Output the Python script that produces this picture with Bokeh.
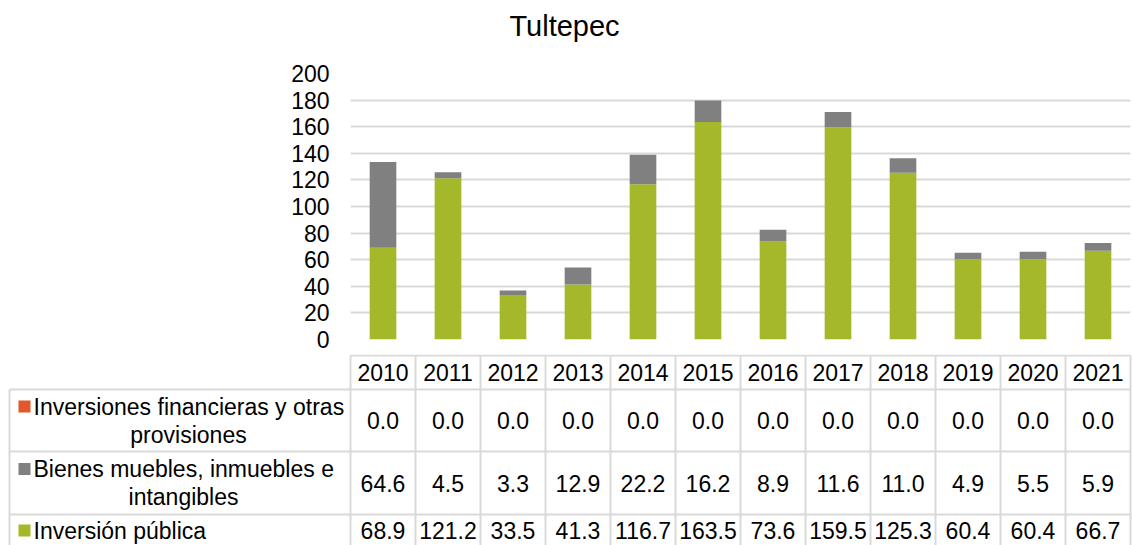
from bokeh.plotting import figure
from bokeh.models import Range1d, FactorRange, FixedTicker, ColumnDataSource
from bokeh.core.properties import value
from bokeh.embed import file_html
from bokeh.resources import INLINE

# ---------------- data ----------------
title_text = "Tultepec"
years = ["2010", "2011", "2012", "2013", "2014", "2015",
         "2016", "2017", "2018", "2019", "2020", "2021"]
inversiones_financieras = [0.0, 0.0, 0.0, 0.0, 0.0, 0.0, 0.0, 0.0, 0.0, 0.0, 0.0, 0.0]
bienes_muebles = [64.6, 4.5, 3.3, 12.9, 22.2, 16.2, 8.9, 11.6, 11.0, 4.9, 5.5, 5.9]
inversion_publica = [68.9, 121.2, 33.5, 41.3, 116.7, 163.5, 73.6, 159.5, 125.3, 60.4, 60.4, 66.7]
series_labels = ["Inversiones financieras y otras\nprovisiones",
                 "Bienes muebles, inmuebles e\nintangibles",
                 "Inversión pública"]
series_colors = ["#E2572B", "#808080", "#A5B82A"]
y_ticks = [0, 20, 40, 60, 80, 100, 120, 140, 160, 180, 200]

# ---------------- layout constants ----------------
FONT = "Liberation Sans"
W = 1132
TOTAL_H = 545
COL0 = 350.0
COL_RIGHT = 1130.0
NCOL = len(years)
COLW = (COL_RIGHT - COL0) / NCOL
GRID = "#D9D9D9"
TITLE_H = 58
PAD_TOP = 15
FRAME_H = 266
PAD_BOTTOM = 15
CHART_H = PAD_TOP + FRAME_H + PAD_BOTTOM


def blank_fig(h):
    f = figure(width=W, height=h, x_range=Range1d(0, W), y_range=Range1d(h, 0),
               output_backend="svg", toolbar_location=None,
               x_axis_location=None, y_axis_location=None, min_border=0)
    f.grid.visible = False
    f.outline_line_color = None
    return f


# ---------------- title ----------------
tf = blank_fig(TITLE_H)
tf.text(x=[564], y=[25], text=[title_text], text_align="center", text_baseline="middle",
        text_font=value(FONT), text_font_size="29px", text_color="#000000")

# ---------------- chart ----------------
src = ColumnDataSource(dict(year=years, fin=inversiones_financieras,
                            bienes=bienes_muebles, inv=inversion_publica))

p = figure(width=W, height=CHART_H, x_range=FactorRange(*years),
           y_range=Range1d(0, 200), output_backend="svg",
           toolbar_location=None, x_axis_location=None,
           min_border_left=int(COL0), min_border_right=int(W - COL_RIGHT),
           min_border_top=PAD_TOP, min_border_bottom=PAD_BOTTOM)

p.vbar_stack(["inv", "bienes", "fin"], x="year", width=0.41, source=src,
             fill_color=[series_colors[2], series_colors[1], series_colors[0]],
             line_color=None)

p.yaxis.ticker = FixedTicker(ticks=y_ticks)
p.yaxis.major_label_text_font = FONT
p.yaxis.major_label_text_font_size = "23px"
p.yaxis.major_label_text_color = "#000000"
p.yaxis.axis_line_color = None
p.yaxis.major_tick_line_color = None
p.yaxis.minor_tick_line_color = None
p.yaxis.major_tick_out = 0
p.yaxis.major_tick_in = 0
p.yaxis.major_label_standoff = 21
p.ygrid.grid_line_color = GRID
p.ygrid.grid_line_width = 2
p.xgrid.grid_line_color = None
p.outline_line_color = None

# ---------------- data table ----------------
TH = TOTAL_H - TITLE_H - CHART_H
t = blank_fig(TH)

HEADER_TOP = 1
ROW_EDGES = [35, 97, 160]
ROW_TEXT_Y = [66, 128.5, 176]
LINE1_Y = [52, 114.5, 176]
LINE2_Y = [80, 142.5, None]
LINE2_X = [188, 183, None]
LEFT = 9

x0, y0, x1, y1 = [], [], [], []
x0.append(COL0); y0.append(HEADER_TOP); x1.append(COL_RIGHT); y1.append(HEADER_TOP)
for ye in ROW_EDGES:
    x0.append(LEFT); y0.append(ye); x1.append(COL_RIGHT); y1.append(ye)
x0.append(LEFT); y0.append(ROW_EDGES[0]); x1.append(LEFT); y1.append(TH)
for i in range(NCOL + 1):
    xx = COL0 + COLW * i
    x0.append(xx); y0.append(HEADER_TOP); x1.append(xx); y1.append(TH)
t.segment(x0=x0, y0=y0, x1=x1, y1=y1, line_color=GRID, line_width=2)

col_x = [COL0 + COLW * (i + 0.5) for i in range(NCOL)]
text_kw = dict(text_font=value(FONT), text_font_size="23px", text_color="#000000",
               text_baseline="middle")
t.text(x=col_x, y=[18] * NCOL, text=years, text_align="center", **text_kw)

rows = [inversiones_financieras, bienes_muebles, inversion_publica]
for r, vals in enumerate(rows):
    t.text(x=col_x, y=[ROW_TEXT_Y[r]] * NCOL, text=[f"{v:.1f}" for v in vals],
           text_align="center", **text_kw)
    lines = series_labels[r].split("\n")
    t.scatter(x=[24], y=[LINE1_Y[r]], marker="square", size=12,
              fill_color=series_colors[r], line_color=None)
    t.text(x=[33], y=[LINE1_Y[r]], text=[lines[0]], text_align="left", **text_kw)
    if len(lines) > 1:
        t.text(x=[LINE2_X[r]], y=[LINE2_Y[r]], text=[lines[1]],
               text_align="center", **text_kw)

open("out.html", "w").write(file_html([tf, p, t], INLINE))
